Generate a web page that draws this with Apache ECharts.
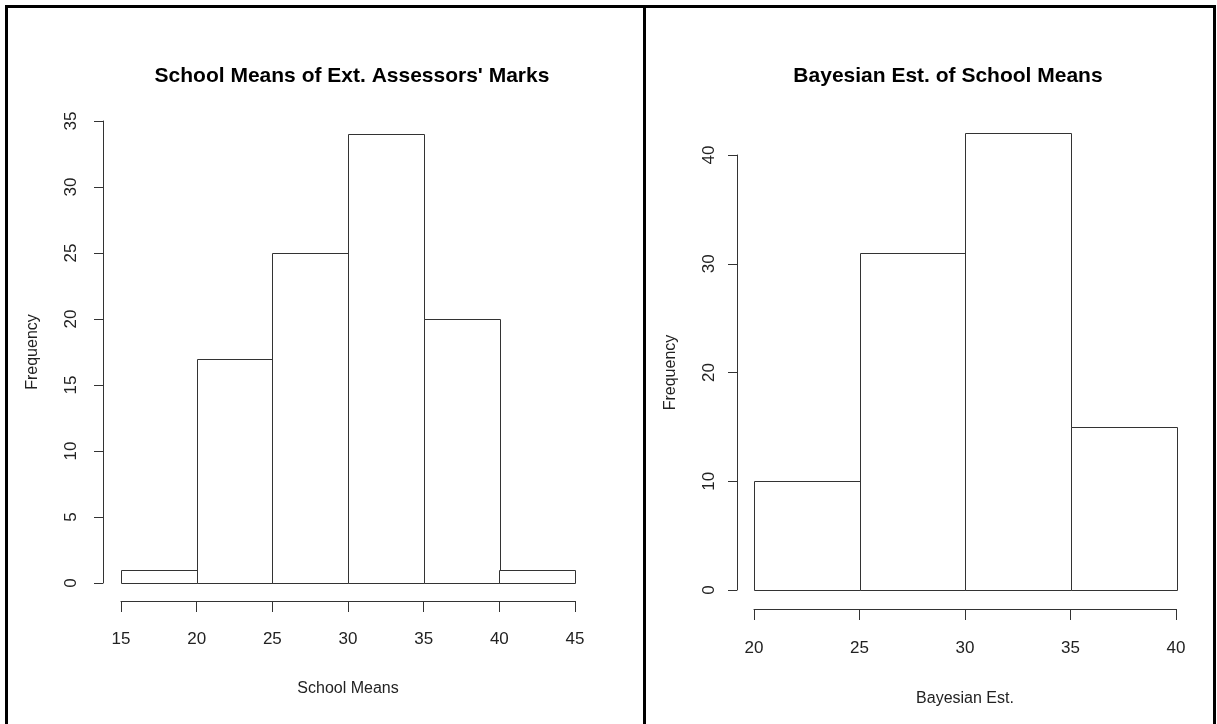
<!DOCTYPE html>
<html><head><meta charset="utf-8">
<script src="https://cdn.jsdelivr.net/npm/echarts@6/dist/echarts.min.js"></script>
<style>html,body{margin:0;padding:0;background:#fff}#c{width:1217px;height:724px}</style>
</head><body><div id="c"></div>
<script>
const leftTitle = "School Means of Ext. Assessors' Marks";
const leftXName = "School Means";
const leftBreaks = [15, 20, 25, 30, 35, 40, 45];
const leftCounts = [1, 17, 25, 34, 20, 1];
const rightTitle = "Bayesian Est. of School Means";
const rightXName = "Bayesian Est.";
const rightBreaks = [20, 25, 30, 35, 40];
const rightCounts = [10, 31, 42, 15];
const yName = "Frequency";

const FONT = 'Liberation Sans, Arial, sans-serif';
const LINE = '#333';
const TXT = '#222';

function histData(breaks, counts) {
  return counts.map((c, i) => [breaks[i], breaks[i + 1], c]);
}
function renderBar(params, api) {
  const p0 = api.coord([api.value(0), 0]);
  const p1 = api.coord([api.value(1), api.value(2)]);
  return {
    type: 'rect',
    shape: { x: Math.round(p0[0]) + 0.5, y: Math.round(p1[1]) + 0.5, width: Math.round(p1[0] - p0[0]), height: Math.round(p0[1] - p1[1]) },
    style: { fill: '#fff', stroke: LINE, lineWidth: 1 }
  };
}
function xAxisCfg(grid, breaks, name, offset, margin, gap) {
  return {
    type: 'value', gridIndex: grid, min: breaks[0], max: breaks[breaks.length - 1], interval: 5,
    offset: offset, name: name, nameLocation: 'middle', nameGap: gap,
    nameTextStyle: { fontFamily: FONT, fontSize: 16, color: TXT },
    axisLine: { show: true, onZero: false, lineStyle: { color: LINE, width: 1 } },
    axisTick: { show: true, length: 11, lineStyle: { color: LINE } },
    axisLabel: { fontFamily: FONT, fontSize: 17, color: TXT, margin: margin },
    splitLine: { show: false }
  };
}
function yAxisCfg(grid, max, interval, offset, margin, gap) {
  return {
    type: 'value', gridIndex: grid, min: 0, max: max, interval: interval,
    offset: offset, name: yName, nameLocation: 'middle', nameGap: gap, nameRotate: 90,
    nameTextStyle: { fontFamily: FONT, fontSize: 16, color: TXT },
    axisLine: { show: true, onZero: false, lineStyle: { color: LINE, width: 1 } },
    axisTick: { show: true, length: 9, lineStyle: { color: LINE } },
    axisLabel: { fontFamily: FONT, fontSize: 17, color: TXT, margin: margin, rotate: 90 },
    splitLine: { show: false }
  };
}

const chart = echarts.init(document.getElementById('c'), null, { renderer: 'canvas' });
chart.setOption({
  animation: false,
  backgroundColor: '#fff',
  title: [
    { text: leftTitle, left: 347, top: 61, textAlign: 'center', textStyle: { fontFamily: FONT, fontSize: 21, fontWeight: 'bold', color: '#000' } },
    { text: rightTitle, left: 943, top: 61, textAlign: 'center', textStyle: { fontFamily: FONT, fontSize: 21, fontWeight: 'bold', color: '#000' } }
  ],
  grid: [
    { left: 121, top: 121, width: 454, height: 462, containLabel: false },
    { left: 754, top: 155, width: 422, height: 435, containLabel: false }
  ],
  xAxis: [
    xAxisCfg(0, leftBreaks, leftXName, 18, 30, 80),
    xAxisCfg(1, rightBreaks, rightXName, 19, 31, 82)
  ],
  yAxis: [
    yAxisCfg(0, 35, 5, 18, 23, 62),
    yAxisCfg(1, 40, 10, 17, 19, 58)
  ],
  series: [
    { type: 'custom', xAxisIndex: 0, yAxisIndex: 0, clip: false, encode: { x: [0, 1], y: 2 }, data: histData(leftBreaks, leftCounts), renderItem: renderBar },
    { type: 'custom', xAxisIndex: 1, yAxisIndex: 1, clip: false, encode: { x: [0, 1], y: 2 }, data: histData(rightBreaks, rightCounts), renderItem: renderBar }
  ],
  graphic: [
    { type: 'rect', silent: true, shape: { x: 6.5, y: 6.5, width: 1208, height: 740 }, style: { fill: 'none', stroke: '#000', lineWidth: 3 } },
    { type: 'line', silent: true, shape: { x1: 644.5, y1: 6, x2: 644.5, y2: 724 }, style: { stroke: '#000', lineWidth: 3 } }
  ]
});
</script>
</body></html>
